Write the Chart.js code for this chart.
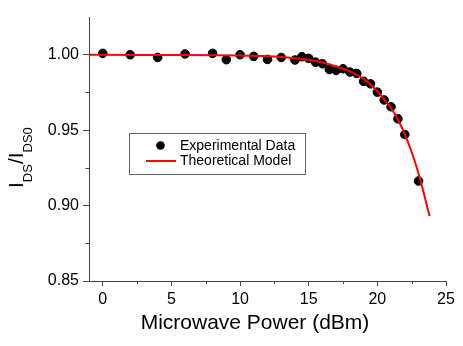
<!DOCTYPE html>
<html>
<head>
<meta charset="utf-8">
<script src="https://cdn.jsdelivr.net/npm/chart.js@4.4.1/dist/chart.umd.min.js"></script>
<style>
  html, body { margin: 0; padding: 0; background: #fff; }
  #wrap { width: 463px; height: 346px; position: relative; }
</style>
</head>
<body>
<div id="wrap"><canvas id="chart"></canvas></div>
<script>
// measured points
const powerExp = [0, 2, 4, 6, 8, 9, 10, 11, 12, 13, 14, 14.5, 15, 15.5, 16, 16.5, 17, 17.5, 18, 18.5, 19, 19.5, 20, 20.5, 21, 21.5, 22, 23];
const ratioExp = [1.0009, 1.0000, 0.9982, 1.0005, 1.0009, 0.9967, 1.0000, 0.9989, 0.9969, 0.9982, 0.9965, 0.9987, 0.9976, 0.9951, 0.9940, 0.9902, 0.9896, 0.9907, 0.9885, 0.9876, 0.9823, 0.9807, 0.9752, 0.9700, 0.9655, 0.9575, 0.9471, 0.9163];

// model curve
const powerModel = [-1, 0, 4, 8, 10, 12, 13, 14, 15, 16, 17, 18, 19, 20, 20.5, 21, 21.5, 22, 22.5, 23, 23.5, 23.8];
const ratioModel = [1.0000, 1.0000, 0.9998, 0.9997, 0.9995, 0.9990, 0.9985, 0.9977, 0.9966, 0.9948, 0.9922, 0.9889, 0.9840, 0.9758, 0.9703, 0.9645, 0.9570, 0.9472, 0.9355, 0.9212, 0.9040, 0.8930];

const xTicks = [0, 5, 10, 15, 20, 25];
const xMinor = [2.5, 7.5, 12.5, 17.5, 22.5];
const yTicks = [0.85, 0.90, 0.95, 1.00];
const yMinor = [0.875, 0.925, 0.975];

const legendLabels = ['Experimental Data', 'Theoretical Model'];
const xTitle = 'Microwave Power (dBm)';

const FONT = "'Liberation Sans', Arial, Helvetica, sans-serif";
const axisColor = '#444';

// extra drawing: minor ticks, axis titles, boxed legend
const decor = {
    id: 'decor',
    afterDraw(chart) {
        const ctx = chart.ctx;
        const xs = chart.scales.x, ys = chart.scales.y;
        const area = chart.chartArea;
        ctx.save();
        ctx.strokeStyle = axisColor;
        ctx.lineWidth = 1;
        ctx.beginPath();
        xMinor.forEach(v => {
            const px = Math.round(xs.getPixelForValue(v)) + 0.5;
            ctx.moveTo(px, area.bottom);
            ctx.lineTo(px, area.bottom + 3);
        });
        yMinor.forEach(v => {
            const py = Math.round(ys.getPixelForValue(v)) + 0.5;
            ctx.moveTo(area.left, py);
            ctx.lineTo(area.left - 3.5, py);
        });
        ctx.stroke();

        // x title
        ctx.fillStyle = '#000';
        ctx.font = '21px ' + FONT;
        ctx.textAlign = 'center';
        ctx.textBaseline = 'alphabetic';
        ctx.fillText(xTitle, 255, 329);

        // y title with subscripts
        ctx.save();
        ctx.translate(23, 188);
        ctx.rotate(-Math.PI / 2);
        ctx.textAlign = 'left';
        const parts = [['I', 21, 0], ['DS', 13, 9], ['/', 21, 0], ['I', 21, 0], ['DS0', 13, 9]];
        let pos = 0;
        parts.forEach(([t, size, dy]) => {
            ctx.font = size + 'px ' + FONT;
            ctx.fillText(t, pos, dy);
            pos += ctx.measureText(t).width;
        });
        ctx.restore();

        // legend box
        ctx.strokeStyle = '#666';
        ctx.strokeRect(129.5, 133.5, 176, 41);
        ctx.fillStyle = '#000';
        ctx.beginPath();
        ctx.arc(160.5, 145.5, 4.3, 0, Math.PI * 2);
        ctx.fill();
        ctx.strokeStyle = '#ff0000';
        ctx.lineWidth = 2;
        ctx.beginPath();
        ctx.moveTo(146, 161);
        ctx.lineTo(176, 161);
        ctx.stroke();
        ctx.font = '14px ' + FONT;
        ctx.textAlign = 'left';
        ctx.textBaseline = 'middle';
        ctx.fillText(legendLabels[0], 180, 146);
        ctx.fillText(legendLabels[1], 180, 161);
        ctx.restore();
    }
};

new Chart(document.getElementById('chart'), {
    type: 'scatter',
    data: {
        datasets: [
            {
                label: legendLabels[0],
                data: powerExp.map((x, i) => ({ x: x, y: ratioExp[i] })),
                backgroundColor: '#000',
                borderColor: '#000',
                pointRadius: 4.3,
                pointHoverRadius: 4.3,
                order: 1
            },
            {
                label: legendLabels[1],
                data: powerModel.map((x, i) => ({ x: x, y: ratioModel[i] })),
                showLine: true,
                borderColor: '#ff0000',
                borderWidth: 2,
                pointRadius: 0,
                cubicInterpolationMode: 'monotone',
                order: 0
            }
        ]
    },
    options: {
        responsive: true,
        maintainAspectRatio: false,
        animation: false,
        layout: { padding: { left: 0, right: 17, top: 17, bottom: 0 } },
        plugins: { legend: { display: false }, tooltip: { enabled: false } },
        scales: {
            x: {
                type: 'linear',
                min: -1, max: 25,
                afterBuildTicks: s => { s.ticks = xTicks.map(v => ({ value: v })); },
                afterFit: s => { s.height = 65; },
                grid: { drawOnChartArea: false, tickLength: 5, color: axisColor },
                border: { color: axisColor, width: 1 },
                ticks: { color: '#000', padding: 4, maxRotation: 0, font: { family: FONT, size: 16 } }
            },
            y: {
                type: 'linear',
                min: 0.85, max: 1.025,
                afterBuildTicks: s => { s.ticks = yTicks.map(v => ({ value: v })); },
                afterFit: s => { s.width = 89; },
                grid: { drawOnChartArea: false, tickLength: 6, color: axisColor },
                border: { color: axisColor, width: 1 },
                ticks: { color: '#000', padding: 4, font: { family: FONT, size: 16 }, callback: v => v.toFixed(2) }
            }
        }
    },
    plugins: [decor]
});
</script>
</body>
</html>
